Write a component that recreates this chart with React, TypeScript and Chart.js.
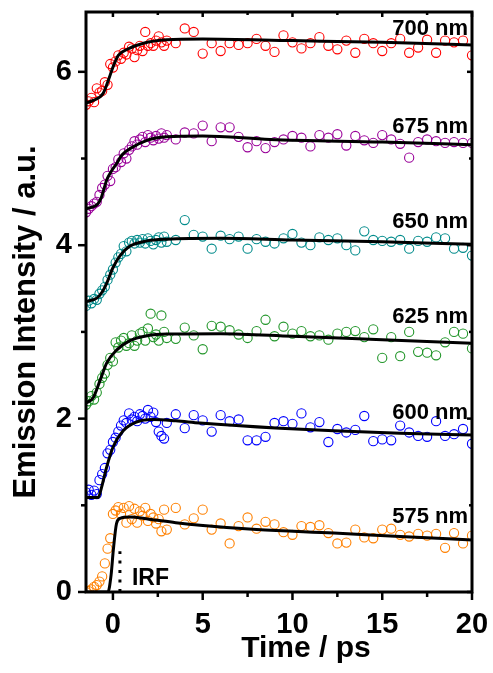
import React, { useEffect, useRef } from 'react';
import { Chart, registerables } from 'chart.js';
Chart.register(...registerables);

// Shared time axis (ps)
const TIME = [
  -1.5, -1.35, -1.2, -1.05, -0.9, -0.75, -0.6, -0.45, -0.3, -0.15,
  0, 0.15, 0.3, 0.45, 0.6, 0.75, 0.9, 1.05, 1.2, 1.35,
  1.5, 1.65, 1.8, 1.95, 2.1, 2.25, 2.4, 2.55, 2.7, 2.85,
  3.0, 3.5, 4, 4.5, 5, 5.5, 6, 6.5, 7, 7.5,
  8, 8.5, 9, 9.5, 10, 10.5, 11, 11.5, 12, 12.5,
  13, 13.5, 14, 14.5, 15, 15.5, 16, 16.5, 17, 17.5,
  18, 18.5, 19, 19.5, 20,
];

const DATA_700 = [
  5.62, 5.66, 5.70, 5.65, 5.81, 5.76, 5.78, 5.88, 5.85, 6.09,
  6.05, 6.12, 6.19, 6.15, 6.22, 6.20, 6.29, 6.27, 6.17, 6.25,
  6.30, 6.24, 6.46, 6.30, 6.33, 6.30, 6.36, 6.41, 6.34, 6.30,
  6.36, 6.33, 6.50, 6.46, 6.21, 6.33, 6.24, 6.33, 6.31, 6.33,
  6.38, 6.30, 6.23, 6.42, 6.34, 6.27, 6.33, 6.40, 6.30, 6.26,
  6.36, 6.22, 6.38, 6.33, 6.24, 6.33, 6.38, 6.22, 6.28, 6.37,
  6.22, 6.36, 6.34, 6.36, 6.19,
];
const DATA_675 = [
  4.38, 4.42, 4.45, 4.48, 4.50, 4.58, 4.66, 4.70, 4.80, 4.74,
  4.88, 4.90, 4.99, 4.96, 5.06, 5.00, 5.10, 5.14, 5.20, 5.16,
  5.22, 5.25, 5.19, 5.27, 5.24, 5.21, 5.26, 5.23, 5.29, 5.24,
  5.27, 5.22, 5.30, 5.29, 5.38, 5.20, 5.36, 5.36, 5.25, 5.13,
  5.20, 5.12, 5.19, 5.22, 5.26, 5.24, 5.14, 5.27, 5.24, 5.28,
  5.15, 5.26, 5.21, 5.18, 5.27, 5.22, 5.17, 5.01, 5.19, 5.22,
  5.20, 5.18, 5.19, 5.18, 5.18,
];
const DATA_650 = [
  3.30, 3.36, 3.33, 3.38, 3.37, 3.44, 3.48, 3.52, 3.60, 3.66,
  3.72, 3.80, 3.86, 3.90, 3.99, 3.93, 4.03, 4.05, 4.02, 4.06,
  4.03, 4.07, 4.02, 4.08, 4.05, 4.01, 4.06, 4.09, 4.03, 4.10,
  4.04, 4.06, 4.29, 4.12, 4.10, 3.96, 4.11, 4.07, 4.10, 3.96,
  4.07, 4.04, 4.02, 4.08, 4.13, 4.03, 4.00, 4.09, 4.06, 4.08,
  4.00, 3.94, 4.16, 4.06, 4.05, 4.04, 4.06, 3.96, 4.05, 4.04,
  4.09, 4.08, 3.96, 3.97, 3.88,
];
const DATA_625 = [
  2.16, 2.20, 2.26, 2.22, 2.30, 2.40, 2.47, 2.52, 2.62, 2.70,
  2.66, 2.88, 2.82, 2.90, 2.93, 2.84, 2.87, 2.96, 2.84, 2.90,
  2.98, 3.00, 2.90, 3.04, 3.21, 2.94, 2.97, 2.90, 3.19, 3.00,
  2.93, 2.92, 3.05, 2.96, 2.80, 3.07, 3.06, 3.02, 2.97, 2.93,
  3.01, 3.14, 2.95, 3.06, 2.98, 3.01, 2.95, 2.96, 2.91, 2.98,
  3.00, 3.01, 2.94, 3.03, 2.70, 2.94, 2.72, 3.00, 2.77, 2.76,
  2.73, 2.88, 3.00, 2.98, 2.81,
];
const DATA_600 = [
  1.15, 1.18, 1.12, 1.17, 1.13, 1.29, 1.36, 1.43, 1.60, 1.64,
  1.73, 1.78, 1.85, 1.92, 1.98, 1.95, 2.06, 1.99, 2.02, 1.97,
  2.05, 2.03, 2.00, 2.10, 2.02, 2.07, 1.96, 1.85, 1.80, 1.77,
  1.95, 2.05, 1.89, 2.04, 1.98, 1.85, 2.04, 1.97, 1.99, 1.75,
  1.75, 1.79, 1.95, 1.97, 1.94, 2.06, 1.90, 1.96, 1.73, 1.88,
  1.84, 1.87, 2.03, 1.74, 1.76, 1.75, 1.92, 1.84, 1.80, 1.79,
  1.97, 1.80, 1.82, 1.88, 1.71,
];
const DATA_575 = [
  0.00, 0.01, 0.03, 0.06, 0.08, 0.12, 0.18, 0.33, 0.50, 0.62,
  0.90, 0.94, 0.98, 0.90, 0.97, 0.80, 0.99, 0.84, 0.96, 0.80,
  0.93, 0.88, 0.97, 0.82, 0.90, 0.86, 0.79, 0.84, 0.70, 0.95,
  0.72, 0.97, 0.78, 0.85, 0.95, 0.72, 0.79, 0.56, 0.76, 0.86,
  0.73, 0.81, 0.78, 0.69, 0.66, 0.76, 0.75, 0.77, 0.68, 0.56,
  0.57, 0.72, 0.63, 0.62, 0.72, 0.73, 0.66, 0.64, 0.67, 0.65,
  0.67, 0.51, 0.68, 0.56, 0.65,
];

// Fit curves
const FIT_700_X = [-1.5, -1.1, -0.55, -0.26, 0.03, 0.3, 0.8, 1.7, 3, 5, 10, 15, 20];
const FIT_700_Y = [5.64, 5.67, 5.75, 5.9, 6.07, 6.19, 6.26, 6.33, 6.37, 6.38, 6.36, 6.34, 6.31];
const FIT_675_X = [-1.5, -0.83, -0.63, -0.35, -0.07, 0.2, 0.5, 1, 1.9, 3, 5, 8.75, 15, 20];
const FIT_675_Y = [4.42, 4.48, 4.56, 4.75, 4.86, 4.94, 5.04, 5.12, 5.21, 5.25, 5.26, 5.22, 5.19, 5.16];
const FIT_650_X = [-1.5, -0.9, -0.6, -0.35, 0, 0.4, 0.95, 1.9, 3, 6, 10, 15, 20];
const FIT_650_Y = [3.35, 3.39, 3.46, 3.56, 3.74, 3.88, 3.99, 4.05, 4.07, 4.08, 4.06, 4.04, 4.01];
const FIT_625_X = [-1.5, -1.1, -0.7, -0.35, 0.2, 0.95, 1.9, 3, 6, 10, 15, 20];
const FIT_625_Y = [2.18, 2.24, 2.45, 2.64, 2.79, 2.9, 2.955, 2.975, 2.98, 2.95, 2.91, 2.87];
const FIT_600_X = [-1.5, -0.82, -0.63, -0.35, 0, 0.57, 1.3, 2.25, 3.5, 4.85, 9.3, 12.3, 16, 20];
const FIT_600_Y = [1.09, 1.09, 1.21, 1.44, 1.67, 1.86, 1.96, 1.99, 1.975, 1.95, 1.89, 1.86, 1.83, 1.81];
const FIT_575_X = [-1.5, -0.28, -0.1, 0.02, 0.2, 0.4, 0.95, 2, 3.5, 4.85, 8, 12.3, 16, 20];
const FIT_575_Y = [0, 0, 0.2, 0.48, 0.79, 0.85, 0.865, 0.84, 0.8, 0.77, 0.72, 0.68, 0.64, 0.6];

const IRF_X = [0.39, 0.39];
const IRF_Y = [0, 0.47];

const SERIES_LABELS = ['700 nm', '675 nm', '650 nm', '625 nm', '600 nm', '575 nm'];
const SERIES_COLORS = ['#ff0000', '#990099', '#008b8b', '#22962a', '#0000ff', '#ff8000'];
const SERIES_DATA = [DATA_700, DATA_675, DATA_650, DATA_625, DATA_600, DATA_575];
const FITS_X = [FIT_700_X, FIT_675_X, FIT_650_X, FIT_625_X, FIT_600_X, FIT_575_X];
const FITS_Y = [FIT_700_Y, FIT_675_Y, FIT_650_Y, FIT_625_Y, FIT_600_Y, FIT_575_Y];
const LABEL_Y = [6.5, 5.37, 4.27, 3.17, 2.06, 0.865];
const LABEL_X = 19.78;
const IRF_LABEL = { text: 'IRF', x: 1.06, y: 0.156 };

const X_MIN = -1.5;
const X_MAX = 20;
const Y_MIN = 0;
const Y_MAX = 6.69;
const X_MAJOR = [0, 5, 10, 15, 20];
const X_MINOR = [2.5, 7.5, 12.5, 17.5];
const Y_MAJOR = [0, 2, 4, 6];
const Y_MINOR = [1, 3, 5];

const FONT = '"Liberation Sans", Arial, Helvetica, sans-serif';

export default function App() {
  const ref = useRef<HTMLCanvasElement>(null);

  useEffect(() => {
    if (!ref.current) return;
    const pts = (xs: number[], ys: number[]) => xs.map((x, i) => ({ x, y: ys[i] }));

    const datasets: any[] = [];
    SERIES_DATA.forEach((ys, i) => {
      datasets.push({
        type: 'line',
        label: SERIES_LABELS[i] + ' fit',
        data: pts(FITS_X[i], FITS_Y[i]),
        borderColor: '#000',
        borderWidth: 3,
        pointRadius: 0,
        cubicInterpolationMode: 'monotone',
        fill: false,
        order: 0,
      });
    });
    SERIES_DATA.forEach((ys, i) => {
      datasets.push({
        type: 'scatter',
        label: SERIES_LABELS[i],
        data: pts(TIME, ys),
        borderColor: SERIES_COLORS[i],
        backgroundColor: 'rgba(0,0,0,0)',
        borderWidth: 1.1,
        pointRadius: 4.6,
        pointStyle: 'circle',
        showLine: false,
        clip: 0,
        order: 1,
      });
    });
    datasets.push({
      type: 'line',
      label: 'IRF',
      data: pts(IRF_X, IRF_Y),
      borderColor: '#000',
      borderWidth: 3,
      borderDash: [3, 6.5],
      pointRadius: 0,
      order: 0,
    });

    const decor = {
      id: 'decor',
      afterDatasetsDraw(chart: any) {
        const { ctx, chartArea: a, scales } = chart;
        const sx = scales.x;
        const sy = scales.y;
        ctx.save();
        ctx.strokeStyle = '#000';
        ctx.lineCap = 'butt';
        const line = (x1: number, y1: number, x2: number, y2: number) => {
          ctx.beginPath();
          ctx.moveTo(x1, y1);
          ctx.lineTo(x2, y2);
          ctx.stroke();
        };
        ctx.lineWidth = 2.5;
        X_MAJOR.forEach((v) => {
          const p = sx.getPixelForValue(v);
          line(p, a.bottom, p, a.bottom + 8);
          line(p, a.top, p, a.top + 5);
        });
        X_MINOR.forEach((v) => {
          const p = sx.getPixelForValue(v);
          line(p, a.bottom, p, a.bottom + 5);
          line(p, a.top, p, a.top + 3);
        });
        Y_MAJOR.forEach((v) => {
          const p = sy.getPixelForValue(v);
          line(a.left - 8, p, a.left, p);
          line(a.right - 5, p, a.right, p);
        });
        Y_MINOR.forEach((v) => {
          const p = sy.getPixelForValue(v);
          line(a.left - 5, p, a.left, p);
          line(a.right - 3, p, a.right, p);
        });
        ctx.lineWidth = 3;
        ctx.strokeRect(a.left, a.top, a.right - a.left, a.bottom - a.top);

        ctx.fillStyle = '#000';
        ctx.font = `bold 22px ${FONT}`;
        ctx.textAlign = 'right';
        ctx.textBaseline = 'middle';
        SERIES_LABELS.forEach((t, i) => {
          ctx.fillText(t, sx.getPixelForValue(LABEL_X), sy.getPixelForValue(LABEL_Y[i]));
        });
        ctx.font = `bold 23px ${FONT}`;
        ctx.textAlign = 'left';
        ctx.fillText(IRF_LABEL.text, sx.getPixelForValue(IRF_LABEL.x), sy.getPixelForValue(IRF_LABEL.y));

        ctx.font = `bold 30px ${FONT}`;
        ctx.textAlign = 'center';
        ctx.textBaseline = 'alphabetic';
        ctx.fillText('Time / ps', 306, 657);
        ctx.translate(35, 322);
        ctx.rotate(-Math.PI / 2);
        ctx.font = `bold 31px ${FONT}`;
        ctx.fillText('Emission Intensity / a.u.', 0, 0);
        ctx.restore();
      },
    };

    const chart = new Chart(ref.current, {
      type: 'scatter',
      data: { datasets },
      options: {
        animation: false,
        responsive: false,
        devicePixelRatio: 1,
        layout: { padding: { left: 0, right: 21, top: 12, bottom: 0 } },
        plugins: { legend: { display: false }, tooltip: { enabled: false } },
        scales: {
          x: {
            type: 'linear',
            min: X_MIN,
            max: X_MAX,
            grid: { display: false, drawTicks: false },
            border: { display: false },
            afterBuildTicks: (s: any) => {
              s.ticks = X_MAJOR.map((v) => ({ value: v }));
            },
            afterFit: (s: any) => {
              s.height = 81;
              s.paddingLeft = 0;
              s.paddingRight = 0;
            },
            ticks: {
              color: '#000',
              padding: 16,
              maxRotation: 0,
              font: { family: FONT, size: 29, weight: 'bold' },
            },
          },
          y: {
            type: 'linear',
            min: Y_MIN,
            max: Y_MAX,
            grid: { display: false, drawTicks: false },
            border: { display: false },
            afterBuildTicks: (s: any) => {
              s.ticks = Y_MAJOR.map((v) => ({ value: v }));
            },
            afterFit: (s: any) => {
              s.width = 86;
              s.paddingTop = 0;
              s.paddingBottom = 0;
            },
            ticks: {
              color: '#000',
              padding: 14,
              font: { family: FONT, size: 29, weight: 'bold' },
            },
          },
        },
      },
      plugins: [decor],
    } as any);
    return () => chart.destroy();
  }, []);

  return (
    <div style={{ position: 'fixed', left: 0, top: 0, width: 493, height: 673, background: '#fff' }}>
      <canvas ref={ref} width={493} height={673} style={{ display: 'block', width: 493, height: 673 }} />
    </div>
  );
}
